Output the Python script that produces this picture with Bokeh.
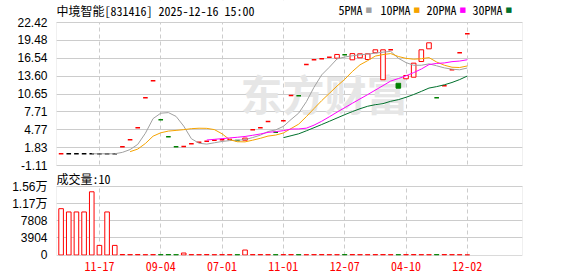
import numpy as np
import pandas as pd
from bokeh.plotting import figure
from bokeh.models import Range1d, FixedTicker, Label, ColumnDataSource, BoxAnnotation
from bokeh.embed import file_html
from bokeh.resources import INLINE

# ---------------- data ----------------
title_text = "中境智能[831416] 2025-12-16 15:00"
tick_index = [5, 13, 21, 29, 37, 45, 53]
tick_labels = ["11-17", "09-04", "07-01", "11-01", "12-07", "04-10", "12-02"]

opens = [0.82, 0.82, 0.82, 0.82, 0.82, 0.82, 0.82, 0.82, 1.97, 3.12,
         5.09, 10.03, 12.83, 6.41, 3.61, 1.97, 2.02, 2.46, 2.70, 2.90,
         3.05, 3.12, 3.17, 3.00, 3.05, 4.76, 5.09, 6.13, 4.37, 6.27,
         10.41, 10.38, 15.50, 16.28, 16.45, 16.71, 16.55, 17.10, 16.28, 16.61,
         16.33, 17.44, 13.00, 17.95, 12.43, 13.16, 13.42, 16.00, 18.09, 10.03,
         12.00, 14.64, 17.44, 20.56]
closes = [0.82, 0.82, 0.82, 0.82, 0.82, 0.82, 0.82, 0.82, 1.97, 3.12,
          5.09, 10.03, 12.83, 6.41, 3.61, 1.97, 2.02, 2.46, 2.70, 2.90,
          3.05, 3.12, 3.17, 3.00, 3.40, 4.76, 5.09, 6.13, 4.37, 6.27,
          10.41, 10.38, 15.50, 16.28, 16.45, 16.71, 17.16, 17.10, 17.30, 17.27,
          17.27, 17.93, 17.93, 17.95, 11.61, 13.70, 15.73, 17.93, 19.08, 10.03,
          12.00, 14.64, 17.44, 20.56]
volumes = [10560, 9810, 9810, 9810, 14410, 2190, 9810, 2190, 100, 80,
           90, 60, 80, 70, 90, 60, 450, 80, 70, 90,
           60, 80, 70, 60, 1130, 80, 90, 70, 60, 80,
           90, 70, 60, 80, 90, 70, 60, 80, 90, 70,
           60, 80, 90, 70, 60, 80, 90, 70, 60, 80,
           90, 70, 60, 10]
ma_periods = [5, 10, 20, 30]
ma_names = ["5PMA", "10PMA", "20PMA", "30PMA"]
ma_colors = ["#a0a0a0", "#f5a300", "#ff00ff", "#00702c"]

price_ticks = [-1.11, 1.83, 4.77, 7.71, 10.65, 13.60, 16.54, 19.48, 22.42]
vol_ticks = [0, 3904, 7808, 11712, 15616]
vol_tick_text = ["0", "3904", "7808", "1.17万", "1.56万"]

RED = "#ff0000"
GREEN = "#008000"
BLACK = "#000000"
MONO = "Noto Sans Mono CJK SC, Noto Sans CJK SC"
AXF = "Liberation Sans, Noto Sans CJK SC"

# ---------------- layout geometry (pixels inside the frame, from its top) ----------------
FRAME_H = 255
PRICE_TOP_PX, PRICE_BOT_PX = 22, 165
VOL_TOP_PX, VOL_ZERO_PX = 186, 254.5

pmin, pmax = price_ticks[0], price_ticks[-1]
k = (pmax - pmin) / (PRICE_BOT_PX - PRICE_TOP_PX)          # price per px
p_end = pmax + PRICE_TOP_PX * k
p_start = p_end - FRAME_H * k

vmax = vol_ticks[-1]
per_px = vmax / (VOL_ZERO_PX - VOL_TOP_PX)                  # volume per px
v_start = -(FRAME_H - VOL_ZERO_PX) * per_px
v_end = vmax + VOL_TOP_PX * per_px


def vol_to_price_units(val):
    px = VOL_ZERO_PX - val / per_px
    return p_end - px * k


# ---------------- derived ----------------
n = len(closes)
idx = np.arange(n)
o = np.array(opens)
c = np.array(closes)
state = []
for i in range(n):
    if c[i] > o[i]:
        state.append("up")
    elif c[i] < o[i]:
        state.append("down")
    else:
        prev = c[i - 1] if i > 0 else c[i] - 1
        state.append("up" if c[i] > prev else ("down" if c[i] < prev else "flat"))
state = np.array(state)
color = np.where(state == "up", RED, np.where(state == "down", GREEN, BLACK))
body = o != c

W, H = 578, 276
p = figure(width=W, height=H, x_range=Range1d(-0.6, 60.2), y_range=Range1d(p_start, p_end),
           output_backend="svg", toolbar_location=None,
           min_border_left=56, min_border_right=56, min_border_top=0, min_border_bottom=21)
p.extra_y_ranges = {"vol": Range1d(v_start, v_end)}

# axes
ytick_pos = [float(t) for t in price_ticks] + [vol_to_price_units(t) for t in vol_ticks]
ytick_txt = ["%.2f" % t for t in price_ticks] + vol_tick_text
p.yaxis.ticker = FixedTicker(ticks=ytick_pos)
p.yaxis.major_label_overrides = {pos: txt for pos, txt in zip(ytick_pos, ytick_txt)}
p.yaxis.major_label_text_font = AXF
p.yaxis.major_label_text_font_size = "12px"
p.yaxis.major_label_text_color = "#000000"
p.yaxis.major_label_standoff = 3
p.xaxis.ticker = FixedTicker(ticks=tick_index)
p.xaxis.major_label_overrides = {int(t): s for t, s in zip(tick_index, tick_labels)}
p.xaxis.major_label_text_color = RED
p.xaxis.major_label_text_font = MONO
p.xaxis.major_label_text_font_size = "12px"
p.xaxis.major_label_standoff = 0
for ax in (p.xaxis, p.yaxis):
    ax.major_tick_line_color = None
    ax.minor_tick_line_color = None
    ax.axis_line_color = None

p.ygrid.grid_line_color = "#cccccc"
p.xgrid.grid_line_color = "#cccccc"
p.xgrid.grid_line_dash = "4 3"
p.outline_line_color = None
p.background_fill_color = "white"
p.border_fill_color = "white"

# watermark
p.add_layout(Label(x=184, y=FRAME_H - 92, x_units="screen", y_units="screen", text="东方财富",
                   text_font="Noto Sans CJK SC", text_font_size="42px", text_font_style="bold",
                   text_color="#e6e6e6", text_baseline="middle", level="underlay"))

# candles
bsrc = ColumnDataSource(dict(x=idx[body], lo=np.minimum(o, c)[body], hi=np.maximum(o, c)[body],
                             lc=color[body],
                             fc=np.where(state[body] == "down", GREEN, "white")))
p.vbar(x="x", width=0.6, bottom="lo", top="hi", source=bsrc, fill_color="fc", line_color="lc", line_width=1)
dsrc = ColumnDataSource(dict(x0=idx[~body] - 0.3, x1=idx[~body] + 0.3, y=c[~body], lc=color[~body]))
p.segment(x0="x0", x1="x1", y0="y", y1="y", source=dsrc, line_color="lc", line_width=1.5)

# moving averages
cs = pd.Series(closes)
for per, col in zip(ma_periods, ma_colors):
    ma = cs.rolling(per).mean().to_numpy()
    p.line(idx, ma, line_color=col, line_width=1)

# volume bars
vsrc = ColumnDataSource(dict(x=idx, top=volumes,
                             lc=np.where(state == "down", GREEN, RED),
                             fc=np.where(state == "down", GREEN, "white")))
p.vbar(x="x", width=0.6, bottom=0, top="top", source=vsrc, fill_color="fc", line_color="lc",
       line_width=1, y_range_name="vol")

# white strips (header and gap between panels), then the two panel borders
p.add_layout(BoxAnnotation(bottom=pmax, fill_color="white", fill_alpha=1.0, line_alpha=0))
p.add_layout(BoxAnnotation(top=pmin, bottom=vmax, y_range_name="vol",
                           fill_color="white", fill_alpha=1.0, line_alpha=0) if False else
             BoxAnnotation(top=pmin, bottom=vol_to_price_units(vmax),
                           fill_color="white", fill_alpha=1.0, line_alpha=0))
p.add_layout(BoxAnnotation(bottom=pmin, top=pmax, fill_alpha=0, line_color="#999999", line_width=1))
p.add_layout(BoxAnnotation(top=vmax, y_range_name="vol", fill_alpha=0,
                           line_color="#999999", line_width=1))

# title, legend, volume title
p.add_layout(Label(x=0, y=FRAME_H - 10, x_units="screen", y_units="screen", text=title_text,
                   text_font=MONO, text_font_size="12px", text_color="#000000",
                   text_baseline="middle"))
leg_x = [282, 324, 370, 416]
for lx, name, col in zip(leg_x, ma_names, ma_colors):
    p.add_layout(Label(x=lx, y=FRAME_H - 9, x_units="screen", y_units="screen", text=name,
                       text_font=MONO, text_font_size="12px", text_color="#000000",
                       text_baseline="middle"))
    p.add_layout(Label(x=lx + 6 * len(name) + 3, y=FRAME_H - 9, x_units="screen", y_units="screen",
                       text="■", text_font="DejaVu Sans", text_font_size="7px",
                       text_color=col, text_baseline="middle"))
p.add_layout(Label(x=0, y=FRAME_H - 178, x_units="screen", y_units="screen",
                   text="成交量:%d" % volumes[-1],
                   text_font=MONO, text_font_size="12px", text_color="#000000",
                   text_baseline="middle"))

open("out.html", "w").write(file_html(p, INLINE))
